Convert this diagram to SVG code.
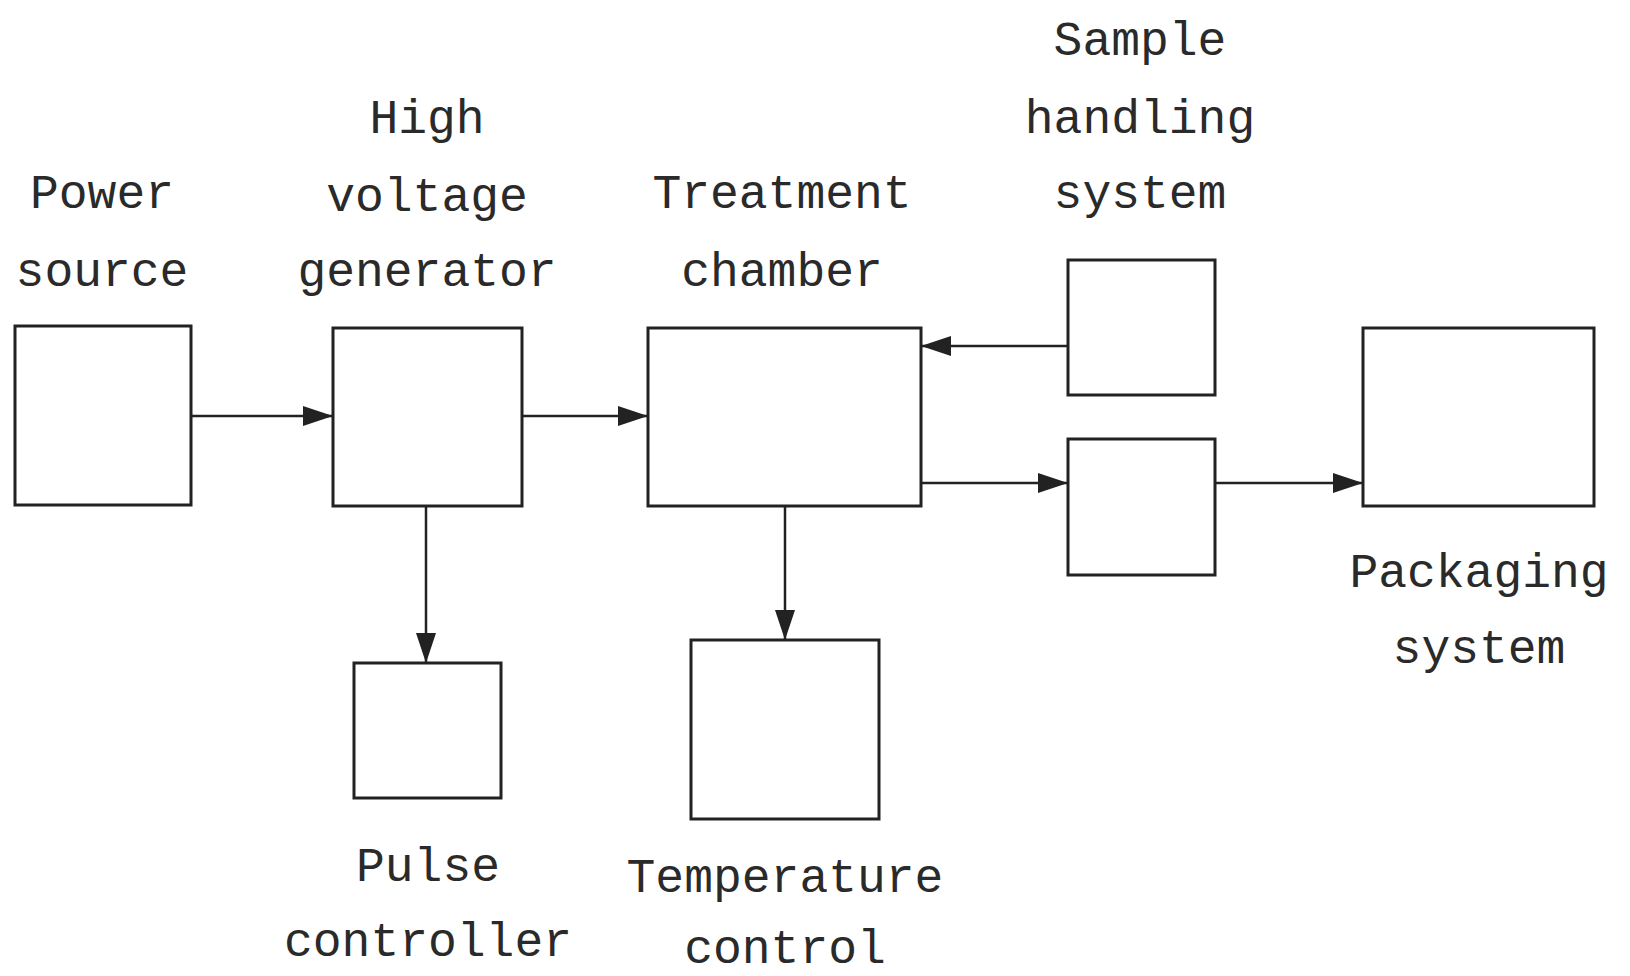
<svg xmlns="http://www.w3.org/2000/svg" width="1630" height="976" viewBox="0 0 1630 976">
<style>
.box{fill:#fff;stroke:#222;stroke-width:3}
.ln{stroke:#222;stroke-width:2.5;fill:none;marker-end:url(#ah)}
text{font-family:"Liberation Mono","DejaVu Sans Mono",monospace;font-size:48px;fill:#2a2a2a;text-anchor:middle}
</style>
<defs>
<marker id="ah" markerWidth="30" markerHeight="20" refX="30" refY="10" orient="auto" markerUnits="userSpaceOnUse">
<path d="M0,0 L30,10 L0,20 Z" fill="#222"/>
</marker>
</defs>
<rect width="1630" height="976" fill="#fff"/>
<g id="power">
<rect class="box" x="15" y="326" width="176" height="179"/>
<text x="102" y="208">Power</text>
<text x="102" y="286">source</text>
</g>
<g id="hvg">
<rect class="box" x="333" y="328" width="189" height="178"/>
<text x="427" y="133">High</text>
<text x="427" y="211">voltage</text>
<text x="427" y="286">generator</text>
</g>
<g id="treatment">
<rect class="box" x="648" y="328" width="273" height="178"/>
<text x="782" y="208">Treatment</text>
<text x="782" y="286">chamber</text>
</g>
<g id="sample">
<rect class="box" x="1068" y="260" width="147" height="135"/>
<text x="1140" y="55">Sample</text>
<text x="1140" y="133">handling</text>
<text x="1140" y="208">system</text>
</g>
<g id="middle">
<rect class="box" x="1068" y="439" width="147" height="136"/>
</g>
<g id="packaging">
<rect class="box" x="1363" y="328" width="231" height="178"/>
<text x="1479" y="587">Packaging</text>
<text x="1479" y="663">system</text>
</g>
<g id="pulse">
<rect class="box" x="354" y="663" width="147" height="135"/>
<text x="428" y="881">Pulse</text>
<text x="428" y="956">controller</text>
</g>
<g id="temp">
<rect class="box" x="691" y="640" width="188" height="179"/>
<text x="785" y="892">Temperature</text>
<text x="785" y="963">control</text>
</g>
<g id="connectors">
<line class="ln" x1="191" y1="416" x2="333" y2="416"/>
<line class="ln" x1="522" y1="416" x2="648" y2="416"/>
<line class="ln" x1="1068" y1="346" x2="921" y2="346"/>
<line class="ln" x1="921" y1="483" x2="1068" y2="483"/>
<line class="ln" x1="1215" y1="483" x2="1363" y2="483"/>
<line class="ln" x1="426" y1="506" x2="426" y2="663"/>
<line class="ln" x1="785" y1="506" x2="785" y2="640"/>
</g>
</svg>
